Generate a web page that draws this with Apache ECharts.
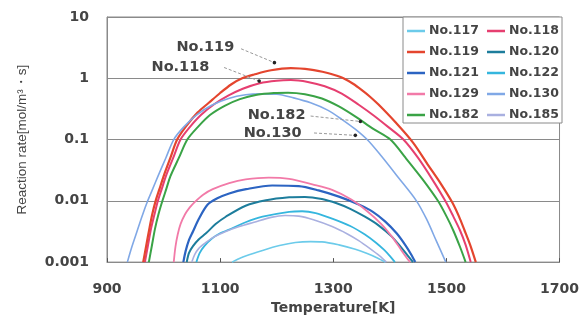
<!DOCTYPE html>
<html>
<head>
<meta charset="utf-8">
<script src="https://cdn.jsdelivr.net/npm/echarts@6/dist/echarts.min.js"></script>
<style>html,body{margin:0;padding:0;background:#fff}#c{width:582px;height:320px}</style>
</head>
<body>
<div id="c"></div>
<script>
// ---- data (Temperature [K], reaction rate [mol/m3·s]) ----
const seriesNames = ['No.117','No.118','No.119','No.120','No.121','No.122','No.129','No.130','No.182','No.185'];
const xTickLabels = ['900','1100','1300','1500','1700'];
const yTickLabels = ['0.001','0.01','0.1','1','10'];

const t117 = [1121,1132,1145,1175,1205,1233,1260,1280,1310,1339,1360,1378,1392];
const v117 = [0.001,0.00112,0.00126,0.00155,0.00186,0.00209,0.00216,0.00214,0.00191,0.00162,0.00138,0.00117,0.001];

const t118 = [967,972,978,984,990,997,1004,1017,1030,1046,1066,1090,1115,1140,1170,1200,1225,1255,1285,1315,1345,1372,1398,1424,1450,1475,1498,1512,1524,1534,1543];
const v118 = [0.001,0.00178,0.00355,0.00603,0.01,0.0158,0.0251,0.0501,0.1,0.158,0.251,0.38,0.525,0.676,0.832,0.912,0.933,0.871,0.741,0.562,0.37,0.245,0.158,0.1,0.0501,0.0224,0.01,0.00562,0.00331,0.00191,0.001];

const t119 = [964,969,975,980,986,993,1000,1012,1024,1040,1060,1080,1100,1120,1139,1160,1190,1225,1260,1290,1305,1318,1335,1350,1365,1380,1410,1441,1468,1490,1510,1522,1532,1542,1552];
const v119 = [0.001,0.00178,0.00355,0.00603,0.01,0.0158,0.0251,0.0501,0.1,0.166,0.275,0.398,0.575,0.8,1.0,1.15,1.35,1.46,1.38,1.22,1.11,1.0,0.813,0.646,0.5,0.372,0.191,0.0891,0.038,0.0191,0.00955,0.00562,0.00331,0.00191,0.001];

const t120 = [1041,1045,1052,1062,1075,1092,1110,1145,1181,1222,1250,1280,1306,1330,1356,1380,1403,1420,1432,1441];
const v120 = [0.001,0.00141,0.00182,0.00234,0.00295,0.00417,0.0055,0.00832,0.0102,0.0114,0.0116,0.0107,0.00912,0.00741,0.0055,0.00398,0.00263,0.00174,0.00126,0.001];

const t121 = [1035,1039,1045,1052,1062,1078,1095,1116,1146,1192,1239,1274,1310,1345,1370,1392,1412,1428,1438,1445];
const v121 = [0.001,0.00151,0.0023,0.00316,0.00501,0.0087,0.011,0.0132,0.0155,0.0178,0.0174,0.0148,0.0117,0.0087,0.00661,0.00457,0.00295,0.00186,0.00132,0.001];

const t122 = [1058,1064,1072,1085,1100,1116,1145,1175,1222,1245,1269,1298,1330,1356,1375,1390,1401,1409];
const v122 = [0.001,0.00141,0.00182,0.0024,0.00295,0.00339,0.00447,0.0055,0.00661,0.00676,0.00631,0.00513,0.00389,0.00282,0.00209,0.00158,0.00123,0.001];

const t129 = [1018,1021,1025,1030,1038,1046,1055,1070,1087,1116,1145,1186,1222,1263,1298,1332,1360,1385,1405,1420,1430,1436];
const v129 = [0.001,0.00178,0.00282,0.00417,0.00603,0.00776,0.00955,0.0126,0.0155,0.0195,0.0224,0.024,0.0229,0.0186,0.0151,0.0105,0.00676,0.00417,0.00251,0.00158,0.00117,0.001];

const t130 = [936,944,953,962,972,981,990,1004,1018,1035,1058,1085,1115,1145,1172,1200,1230,1260,1290,1315,1340,1362,1385,1415,1447,1465,1482,1499];
const v130 = [0.001,0.00178,0.00316,0.00562,0.01,0.0158,0.0251,0.0501,0.1,0.158,0.251,0.363,0.468,0.537,0.556,0.55,0.479,0.398,0.302,0.214,0.145,0.0955,0.0537,0.024,0.01,0.00501,0.00224,0.001];

const t182 = [974,979,985,991,998,1005,1012,1027,1042,1060,1082,1108,1135,1165,1195,1220,1250,1280,1310,1340,1370,1401,1428,1458,1485,1500,1512,1524,1534];
const v182 = [0.001,0.00178,0.00355,0.00603,0.01,0.0158,0.0251,0.0501,0.1,0.158,0.251,0.355,0.457,0.537,0.575,0.582,0.55,0.468,0.347,0.234,0.151,0.1,0.0501,0.0224,0.01,0.00562,0.00331,0.00178,0.001];

const t185 = [1050,1055,1062,1075,1087,1110,1134,1160,1190,1215,1239,1265,1298,1325,1345,1365,1382,1394];
const v185 = [0.001,0.00132,0.00166,0.00209,0.00251,0.00316,0.0038,0.00447,0.00537,0.00575,0.00562,0.0049,0.0038,0.00288,0.00224,0.00166,0.00126,0.001];

// annotation labels: name, text end (T, rate), leader start (T, rate), dot (T, rate)
const annoNames = ['No.119','No.118','No.182','No.130'];
const annoText  = [[1125,3.26],[1081,1.5],[1251,0.254],[1244,0.127]];
const annoStart = [[1137,3.03],[1107,1.5],[1260,0.242],[1266,0.128]];
const annoDot   = [[1196,1.8],[1169,0.9],[1348,0.197],[1339,0.117]];

// ---- styling ----
const temps = [t117,t118,t119,t120,t121,t122,t129,t130,t182,t185];
const rates = [v117,v118,v119,v120,v121,v122,v129,v130,v182,v185];
const colors = ['#6ccbea','#e63f70','#e4452e','#1d7d9c','#2c64c2','#35b6de','#f27aa8','#80a8e6','#3aa346','#a9b0e0'];
const widths = [1.6,2,2.2,2,2.2,1.8,1.8,1.6,2,1.6];

const font = 'DejaVu Sans';
const chart = echarts.init(document.getElementById('c'), null, {renderer:'canvas'});

const series = seriesNames.map((n,i)=>({
  name:n, type:'line', symbol:'none', smooth:0.3,
  data: temps[i].map((t,k)=>[t, rates[i][k]]),
  lineStyle:{color:colors[i], width:widths[i]},
  itemStyle:{color:colors[i]},
  z: 2
}));

const legendBase = {
  orient:'vertical', icon:'rect', itemWidth:18, itemHeight:2.5, itemGap:7,
  textStyle:{fontFamily:font, fontWeight:'bold', fontSize:12.5, lineHeight:14, color:'#444', padding:[0,0,0,-1]},
  padding:0, z:5, selectedMode:false
};

chart.setOption({
  animation:false,
  backgroundColor:'#fff',
  grid:{left:107, right:20, top:17, bottom:50, show:true, borderColor:'#8a8a8a', borderWidth:1},
  legend:[
    Object.assign({}, legendBase, {left:407, top:24, data:['No.117','No.119','No.121','No.129','No.182']}),
    Object.assign({}, legendBase, {left:487, top:24, data:['No.118','No.120','No.122','No.130','No.185']})
  ],
  xAxis:{
    type:'value', min:900, max:1700, interval:200,
    name:'Temperature[K]', nameLocation:'middle', nameGap:34,
    nameTextStyle:{fontFamily:font, fontWeight:'bold', fontSize:14, color:'#444'},
    axisLine:{show:true, lineStyle:{color:'#8a8a8a'}},
    axisTick:{show:true, inside:true, length:4, lineStyle:{color:'#555'}},
    splitLine:{show:false},
    axisLabel:{fontFamily:font, fontWeight:'bold', fontSize:14, color:'#444', margin:20,
      formatter:(v)=>xTickLabels[Math.round((v-900)/200)]}
  },
  yAxis:{
    type:'log', logBase:10, min:0.001, max:10,
    name:'Reaction rate[mol/m³・s]', nameLocation:'middle', nameGap:78,
    nameTextStyle:{fontFamily:'Liberation Sans', fontSize:13.5, color:'#444'},
    axisLine:{show:true, lineStyle:{color:'#8a8a8a'}},
    axisTick:{show:false},
    splitLine:{show:true, lineStyle:{color:'#8a8a8a', width:1}},
    axisLabel:{fontFamily:font, fontWeight:'bold', fontSize:14, color:'#444', margin:18,
      formatter:(v)=>yTickLabels[Math.round(Math.log10(v))+3]}
  },
  series: series
});

// legend frame and annotations positioned through the chart's own scales
const g = [];
g.push({type:'rect', z:3, shape:{x:403, y:17, width:159, height:106},
  style:{fill:'#fff', stroke:'#8a8a8a', lineWidth:1}});
annoNames.forEach((n,i)=>{
  const p = chart.convertToPixel({gridIndex:0}, annoText[i]);
  const s = chart.convertToPixel({gridIndex:0}, annoStart[i]);
  const d = chart.convertToPixel({gridIndex:0}, annoDot[i]);
  g.push({type:'line', z:6, shape:{x1:s[0], y1:s[1], x2:d[0], y2:d[1]},
    style:{stroke:'#999', lineWidth:1, lineDash:[3,2]}});
  g.push({type:'circle', z:7, shape:{cx:d[0], cy:d[1], r:1.8}, style:{fill:'#222'}});
  g.push({type:'text', z:7, x:p[0], y:p[1],
    style:{text:n, fill:'#444', font:'bold 14.5px "DejaVu Sans"', align:'right', verticalAlign:'middle'}});
});
chart.setOption({graphic:g});
</script>
</body>
</html>
